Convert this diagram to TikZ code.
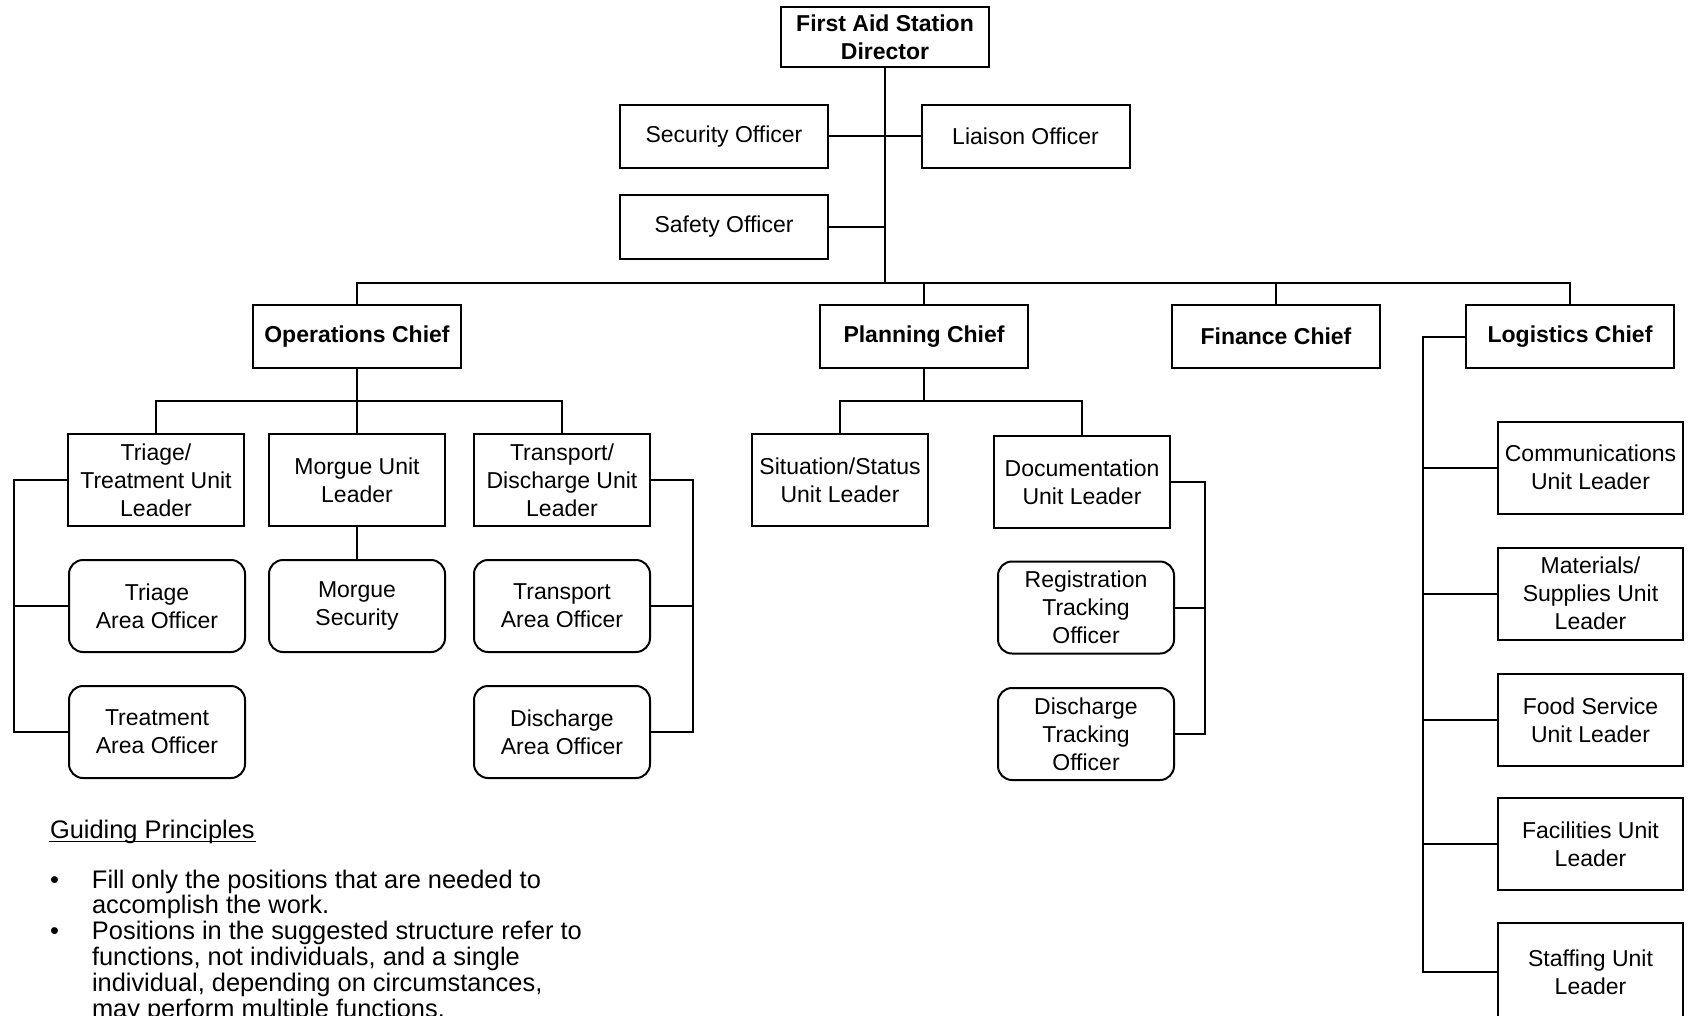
\documentclass[tikz,border=0pt]{standalone}
\usepackage{fontspec}
\setmainfont{Liberation Sans}

\begin{document}
\begin{tikzpicture}[x=0.5pt,y=-0.5pt,line width=1pt,
  box node/.style={draw,align=center,inner sep=1pt,minimum width=104pt,minimum height=31.5pt,font=\fontsize{11.5}{14}\selectfont},
  chief node/.style={box node,font=\fontsize{11.5}{14}\selectfont\bfseries},
  unit node/.style={box node,minimum width=88pt,minimum height=46pt},
  officer node/.style={unit node,rounded corners=7pt},
  log node/.style={unit node,minimum width=92.5pt}]
  \useasboundingbox (0,0) rectangle (1690,1016);

  \node[chief node,minimum height=30pt] (dir) at (885,37.5) {First Aid Station\\Director};
  \node[box node] (sec) at (724,136.5) {Security Officer};
  \node[box node] (liai) at (1025.5,136.5) {Liaison Officer};
  \node[box node] (safe) at (724,227) {Safety Officer};

  \node[chief node] (ops) at (357,336.5) {Operations Chief};
  \node[chief node] (plan) at (924,336.5) {Planning Chief};
  \node[chief node] (fin) at (1276,336.5) {Finance Chief};
  \node[chief node] (log) at (1570,336.5) {Logistics Chief};

  \node[unit node] (tril) at (156,480) {Triage/\\Treatment Unit\\Leader};
  \node[unit node] (morl) at (357,480) {Morgue Unit\\Leader};
  \node[unit node] (trnl) at (562,480) {Transport/\\Discharge Unit\\Leader};
  \node[officer node] (tria) at (157,606) {Triage\\Area Officer};
  \node[officer node] (mors) at (357,606) {Morgue\\Security};
  \node[officer node] (trna) at (562,606) {Transport\\Area Officer};
  \node[officer node] (trea) at (157,732) {Treatment\\Area Officer};
  \node[officer node] (disa) at (562,732) {Discharge\\Area Officer};

  \node[unit node] (sit) at (840,480) {Situation/Status\\Unit Leader};
  \node[unit node] (doc) at (1082,482) {Documentation\\Unit Leader};
  \node[officer node] (reg) at (1086,607.5) {Registration\\Tracking\\Officer};
  \node[officer node] (dtr) at (1086,734) {Discharge\\Tracking\\Officer};

  \node[log node] (com) at (1590.5,467.5) {Communications\\Unit Leader};
  \node[log node] (mat) at (1590.5,593.5) {Materials/\\Supplies Unit\\Leader};
  \node[log node] (food) at (1590.5,720) {Food Service\\Unit Leader};
  \node[log node] (fac) at (1590.5,844) {Facilities Unit\\Leader};
  \node[log node,minimum height=49pt] (stf) at (1590.5,972) {Staffing Unit\\Leader};

  \coordinate (bus) at (885,283);
  \coordinate (opsbus) at (357,401);
  \coordinate (planbus) at (924,401);
  \coordinate (lbr) at (14,0);
  \coordinate (rbr) at (693,0);
  \coordinate (dbr) at (1205,0);
  \coordinate (lx) at (1423,0);

  % director and staff
  \draw (dir.south) -- (dir.south |- bus);
  \draw (sec) -- (liai);
  \draw (safe.east) -- (safe.east -| dir.south);
  \draw (ops.north) |- (bus) -| (log.north);
  \draw (plan.north) -- (plan.north |- bus);
  \draw (fin.north) -- (fin.north |- bus);

  % operations
  \draw (ops.south) -- (opsbus);
  \draw (tril.north) |- (opsbus) -| (trnl.north);
  \draw (morl.north) -- (morl.north |- opsbus);
  \draw (morl) -- (mors);
  \draw (tril.west) -| (lbr |- trea.west) -- (trea.west);
  \draw (tria.west) -- (tria.west -| lbr);
  \draw (trnl.east) -| (rbr |- disa.east) -- (disa.east);
  \draw (trna.east) -- (trna.east -| rbr);

  % planning
  \draw (plan.south) -- (planbus);
  \draw (sit.north) |- (planbus) -| (doc.north);
  \draw (doc.east) -| (dbr |- dtr.east) -- (dtr.east);
  \draw (reg.east) -- (reg.east -| dbr);

  % logistics
  \draw (log.west) -| (lx |- stf.west) -- (stf.west);
  \draw (com.west) -- (com.west -| lx);
  \draw (mat.west) -- (mat.west -| lx);
  \draw (food.west) -- (food.west -| lx);
  \draw (fac.west) -- (fac.west -| lx);

  % notes
  \node[anchor=base west,inner sep=0,font=\fontsize{12.7}{12.5}\selectfont] (guide) at (49,838) {Guiding Principles};
  \draw[line width=0.7pt] ([yshift=-1.6pt]guide.base west) -- ([yshift=-1.6pt]guide.base east);
  \node[anchor=base west,inner sep=0,font=\fontsize{12.7}{12.5}\selectfont] (rules) at (49,888)
    {\begin{tabular}[t]{@{}p{21pt}@{}l@{}}
     \textbullet & Fill only the positions that are needed to\\
                 & accomplish the work.\\
     \textbullet & Positions in the suggested structure refer to\\
                 & functions, not individuals, and a single\\
                 & individual, depending on circumstances,\\
                 & may perform multiple functions.
     \end{tabular}};
\end{tikzpicture}
\end{document}
